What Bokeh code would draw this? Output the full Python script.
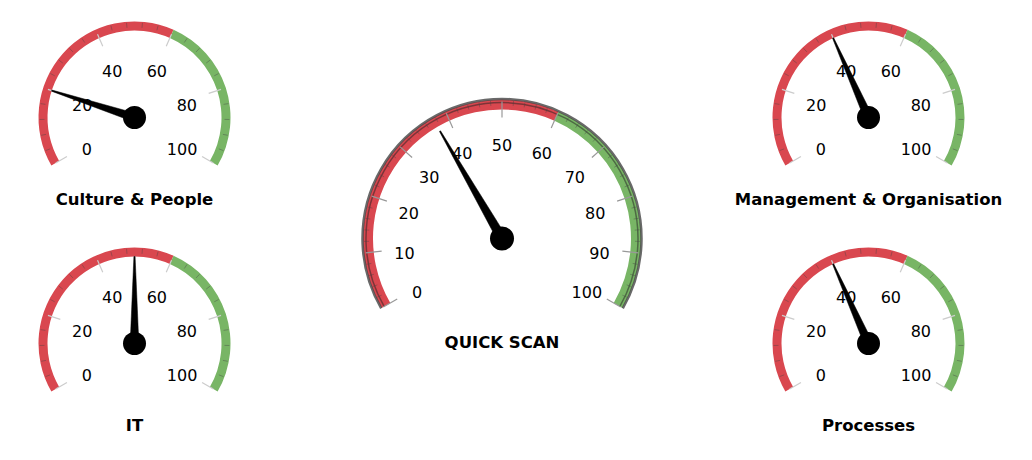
import numpy as np
from bokeh.plotting import figure
from bokeh.models import Range1d
from bokeh.core.properties import value
from bokeh.embed import file_html
from bokeh.resources import INLINE

# ---- data ----
gauge_names = ["Culture & People", "IT", "Management & Organisation", "Processes"]
gauge_values = [20, 50, 40, 40]
quick_name = "QUICK SCAN"
quick_value = 37.5
small_ticks = [0, 20, 40, 60, 80, 100]
quick_ticks = [0, 10, 20, 30, 40, 50, 60, 70, 80, 90, 100]
band_red = (0, 60)
band_green = (60, 100)

W, H = 1032, 460
RED = "#d9474f"
GREEN = "#78b565"
FONT = "DejaVu Sans"

p = figure(width=W, height=H, x_range=Range1d(0, W), y_range=Range1d(0, H),
           output_backend="svg", toolbar_location=None, min_border=0)
p.axis.visible = False
p.xgrid.visible = False
p.ygrid.visible = False
p.outline_line_color = None
p.background_fill_color = "white"


def ang(v):
    # 0 -> 210 deg, 100 -> -30 deg (math angle)
    return np.deg2rad(210 - 2.4 * v)


def draw_gauge(cx, cy, val, title, big):
    if big:
        r_out, band_w = 139, 10
        maj_in, maj_out = 121, 137
        min_step, maj_step = 2, 10
        lab_r, lab_dy = 98, 4.3
        needle_len, needle_w, pivot_r = 124, 10, 12
        ticks = quick_ticks
        title_dy = 104
        tick_col = "#999999"
    else:
        r_out, band_w = 96, 9
        maj_in, maj_out = 78, 91
        min_step, maj_step = 4, 20
        lab_r, lab_dy = 55, 4
        needle_len, needle_w, pivot_r = 87, 9, 11.5
        ticks = small_ticks
        title_dy = 82
        tick_col = "#cccccc"
    r_in = r_out - band_w
    # bands
    p.annular_wedge(x=[cx, cx], y=[cy, cy], inner_radius=r_in, outer_radius=r_out,
                    start_angle=[ang(band_red[1]), ang(band_green[1])],
                    end_angle=[ang(band_red[0]), ang(band_green[0])],
                    fill_color=[RED, GREEN], line_color=None)
    if big:
        # dark rim
        p.arc(x=cx, y=cy, radius=r_out + 0.5, start_angle=ang(100), end_angle=ang(0),
              line_color="#444444", line_width=2.5, line_alpha=0.8)
        p.arc(x=cx, y=cy, radius=r_out - 3, start_angle=ang(100), end_angle=ang(0),
              line_color="#222222", line_width=1.5, line_alpha=0.5)
    # minor ticks
    mv = np.arange(0, 100 + 1e-9, min_step)
    mv = np.array([v for v in mv if v % maj_step != 0])
    a = ang(mv)
    p.segment(x0=cx + (r_out - 1) * np.cos(a), y0=cy + (r_out - 1) * np.sin(a),
              x1=cx + (r_out - 6) * np.cos(a), y1=cy + (r_out - 6) * np.sin(a),
              line_color="#444444", line_alpha=0.4, line_width=1)
    # major ticks
    tv = np.array(ticks, dtype=float)
    a = ang(tv)
    p.segment(x0=cx + maj_out * np.cos(a), y0=cy + maj_out * np.sin(a),
              x1=cx + maj_in * np.cos(a), y1=cy + maj_in * np.sin(a),
              line_color=tick_col, line_width=1.2)
    # labels
    p.text(x=cx + lab_r * np.cos(a), y=cy + lab_r * np.sin(a) - lab_dy,
           text=[str(t) for t in ticks], text_align="center", text_baseline="middle",
           text_font=value(FONT), text_font_size="16px", text_color="#000000")
    # needle
    t = ang(val)
    ux, uy = np.cos(t), np.sin(t)
    nx, ny = -uy, ux
    rear = 4
    xs = [cx - rear * ux + nx * needle_w / 2, cx + needle_len * ux + nx * 0.6,
          cx + needle_len * ux - nx * 0.6, cx - rear * ux - nx * needle_w / 2]
    ys = [cy - rear * uy + ny * needle_w / 2, cy + needle_len * uy + ny * 0.6,
          cy + needle_len * uy - ny * 0.6, cy - rear * uy - ny * needle_w / 2]
    p.patch(x=xs, y=ys, fill_color="black", line_color="black", line_width=0.5)
    p.circle(x=[cx], y=[cy], radius=pivot_r, fill_color="black", line_color=None)
    # title
    p.text(x=[cx], y=[cy - title_dy], text=[title], text_align="center",
           text_baseline="middle", text_font=value(FONT), text_font_size="16.5px",
           text_font_style="bold", text_color="#000000")


small_centers = [(134, 343), (134, 117), (868, 343), (868, 117)]
for (cx, cy), v, n in zip(small_centers, gauge_values, gauge_names):
    draw_gauge(cx, cy, v, n, False)
draw_gauge(501.5, 222, quick_value, quick_name, True)

open("out.html", "w").write(file_html(p, INLINE))
